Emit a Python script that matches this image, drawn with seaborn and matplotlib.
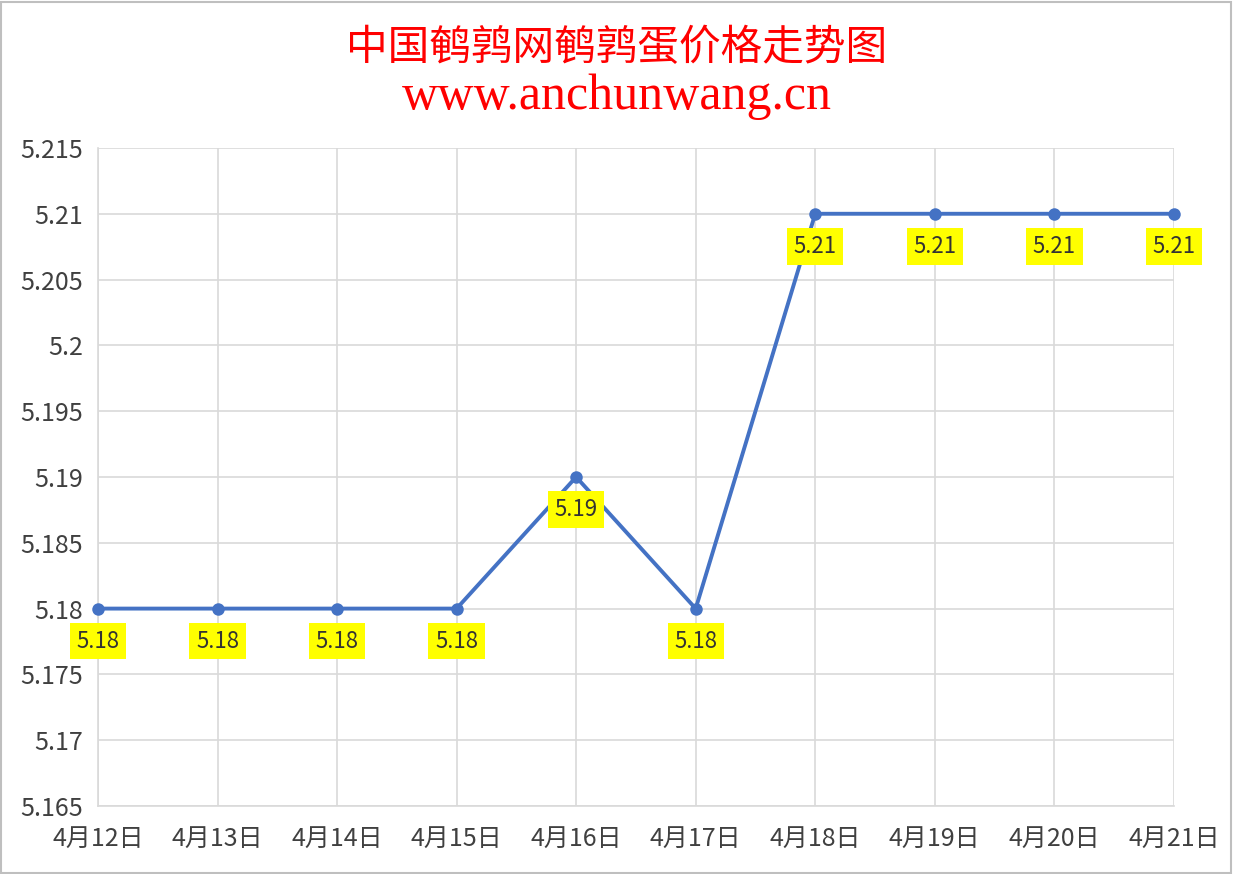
import numpy as np
import pandas as pd
import seaborn as sns
import matplotlib.pyplot as plt
from matplotlib.patches import Rectangle

# chart values
dates = ['4月12日', '4月13日', '4月14日', '4月15日', '4月16日',
         '4月17日', '4月18日', '4月19日', '4月20日', '4月21日']
prices = [5.18, 5.18, 5.18, 5.18, 5.19, 5.18, 5.21, 5.21, 5.21, 5.21]
yticks = [5.165, 5.17, 5.175, 5.18, 5.185, 5.19, 5.195, 5.2, 5.205, 5.21, 5.215]
ytick_labels = ['5.165', '5.17', '5.175', '5.18', '5.185', '5.19', '5.195',
                '5.2', '5.205', '5.21', '5.215']

df = pd.DataFrame({'x': np.arange(len(dates)), 'price': prices})

sns.set_style('white')
plt.rcParams['font.family'] = ['Noto Sans CJK SC', 'DejaVu Sans']

fig = plt.figure(figsize=(12.33, 8.74), dpi=100)
ax = fig.add_axes([0.0795, 0.0778, 0.8725, 0.7529])

sns.lineplot(data=df, x='x', y='price', ax=ax, color='#4472C4',
             linewidth=2.8, marker='o', markersize=9, markeredgewidth=0,
             clip_on=False, zorder=3)

for xi, yi in zip(df['x'], df['price']):
    ax.annotate(f'{yi:.2f}', (xi, yi), xytext=(0, -23.5), textcoords='offset points',
                ha='center', va='center', fontsize=16, color='#333333', zorder=4,
                bbox=dict(boxstyle='square,pad=0.3', fc='#FFFF00', ec='none'))

ax.set_xlim(0, len(dates) - 1)
ax.set_ylim(5.165, 5.215)
ax.set_xticks(df['x'])
ax.set_xticklabels(dates, fontsize=18, color='#404040')
ax.set_yticks(yticks)
ax.set_yticklabels(ytick_labels, fontsize=18, color='#404040')
ax.tick_params(axis='y', length=0, pad=11)
ax.tick_params(axis='x', length=0, pad=14)
ax.grid(True, color='#D9D9D9', linewidth=1.2)
ax.set_xlabel('')
ax.set_ylabel('')
for side in ['top', 'right']:
    ax.spines[side].set_visible(False)
for side in ['left', 'bottom']:
    ax.spines[side].set_color('#D9D9D9')
    ax.spines[side].set_linewidth(1.2)

fig.text(0.5, 0.945, '中国鹌鹑网鹌鹑蛋价格走势图', ha='center', va='center',
         fontsize=30, color='#FF0000', family=['Noto Sans CJK SC'])
fig.text(0.5, 0.889, 'www.anchunwang.cn', ha='center', va='center',
         fontsize=36, color='#FF0000', family=['Liberation Serif'])

fig.patches.append(Rectangle((0.001, 0.001), 0.997, 0.997, transform=fig.transFigure,
                             fill=False, ec='#BFBFBF', lw=1.5))

fig.savefig('out.png', dpi=100)
